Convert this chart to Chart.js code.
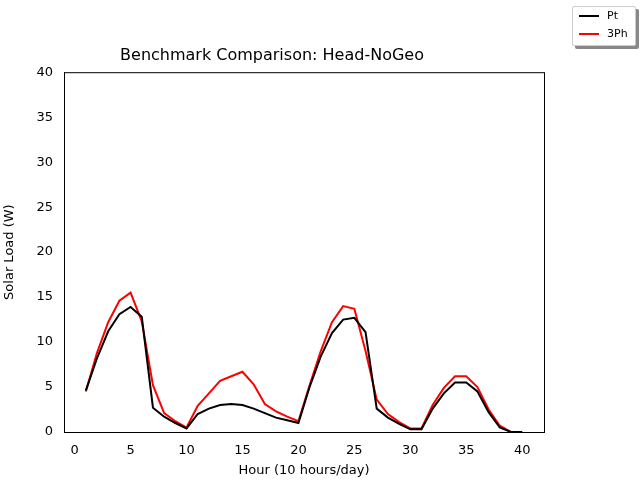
<!DOCTYPE html>
<html>
<head>
<script src="https://cdn.jsdelivr.net/npm/chart.js@4"></script>
<style>
  body { margin: 0; background: #fff; font-family: "DejaVu Sans", sans-serif; }
  #wrap { position: relative; width: 640px; height: 480px; }
  #legend { position: absolute; left: 572px; top: 6px; width: 64px; height: 40px; border: 1px solid #ccc;
    background: #fff; box-shadow: 3px 3px 0 #888; font-size: 11px; box-sizing: border-box; border-radius: 2px; }
  .item { position: absolute; left: 6px; display: flex; align-items: center; }
  .item span.l { display: inline-block; width: 20px; height: 2px; margin-right: 8px; }
</style>
</head>
<body>
<div id="wrap">
  <canvas id="chart" width="640" height="480"></canvas>
  <div id="legend">
    <div class="item" style="top:2px"><span class="l" style="background:#000"></span>Pt</div>
    <div class="item" style="top:20px"><span class="l" style="background:#f00"></span>3Ph</div>
  </div>
</div>
<script>
const hours = Array.from({ length: 40 }, (_, i) => i + 1)
const pt = [4.6, 8.2, 11.2, 13.1, 13.9, 12.8, 2.7, 1.7, 1.0, 0.4,
  2.0, 2.6, 3.0, 3.1, 3.0, 2.6, 2.1, 1.6, 1.3, 1.0,
  5.0, 8.4, 11.0, 12.5, 12.7, 11.1, 2.6, 1.6, 0.9, 0.3,
  0.3, 2.6, 4.3, 5.5, 5.5, 4.5, 2.2, 0.5, 0, 0]
const ph3 = [4.5, 8.8, 12.2, 14.6, 15.5, 12.3, 5.2, 2.1, 1.2, 0.5,
  2.9, 4.3, 5.7, 6.2, 6.7, 5.3, 3.1, 2.3, 1.7, 1.2,
  5.2, 9.0, 12.2, 14.0, 13.7, 9.0, 3.6, 2.0, 1.1, 0.4,
  0.4, 3.0, 4.9, 6.2, 6.2, 5.0, 2.5, 0.7, 0, 0]
const xTicks = [0, 5, 10, 15, 20, 25, 30, 35, 40]

const toPts = arr => arr.map((v, i) => ({ x: hours[i], y: v }))
const font = { family: 'DejaVu Sans', size: 13 }

new Chart(document.getElementById('chart'), {
  type: 'line',
  data: {
    datasets: [
      { label: 'Pt', data: toPts(pt), borderColor: '#000', borderWidth: 2 },
      { label: '3Ph', data: toPts(ph3), borderColor: '#f00', borderWidth: 2 },
    ],
  },
  options: {
    responsive: false,
    animation: false,
    elements: { point: { radius: 0 }, line: { tension: 0 } },
    layout: { padding: { left: 0, right: 96, top: 0, bottom: 0 } },
    plugins: {
      legend: { display: false },
      tooltip: { enabled: false },
      title: {
        display: true, text: 'Benchmark Comparison: Head-NoGeo', color: '#000',
        font: { family: 'DejaVu Sans', size: 16, weight: 'normal' }, padding: { top: 46, bottom: 7 },
      },
    },
    scales: {
      x: {
        type: 'linear', min: -0.95, max: 41.95,
        afterBuildTicks: s => { s.ticks = xTicks.map(v => ({ value: v })) },
        afterFit: s => { s.height = 48 },
        grid: { display: false, drawTicks: true },
        border: { color: '#000' },
        ticks: { color: '#000', font },
        title: { display: true, text: 'Hour (10 hours/day)', color: '#000', font, padding: 2 },
      },
      y: {
        min: 0, max: 40,
        afterFit: s => { s.width = 64 },
        grid: { display: false },
        border: { color: '#000' },
        ticks: { stepSize: 5, color: '#000', font },
        title: { display: true, text: 'Solar Load (W)', color: '#000', font, padding: 2 },
      },
    },
  },
  plugins: [{
    id: 'frame',
    afterDraw(c) {
      const { ctx, chartArea: a } = c
      ctx.save()
      ctx.strokeStyle = '#000'
      ctx.lineWidth = 1
      ctx.strokeRect(a.left + 0.5, a.top + 0.5, a.right - a.left, a.bottom - a.top)
      ctx.restore()
    },
  }],
})
</script>
</body>
</html>
